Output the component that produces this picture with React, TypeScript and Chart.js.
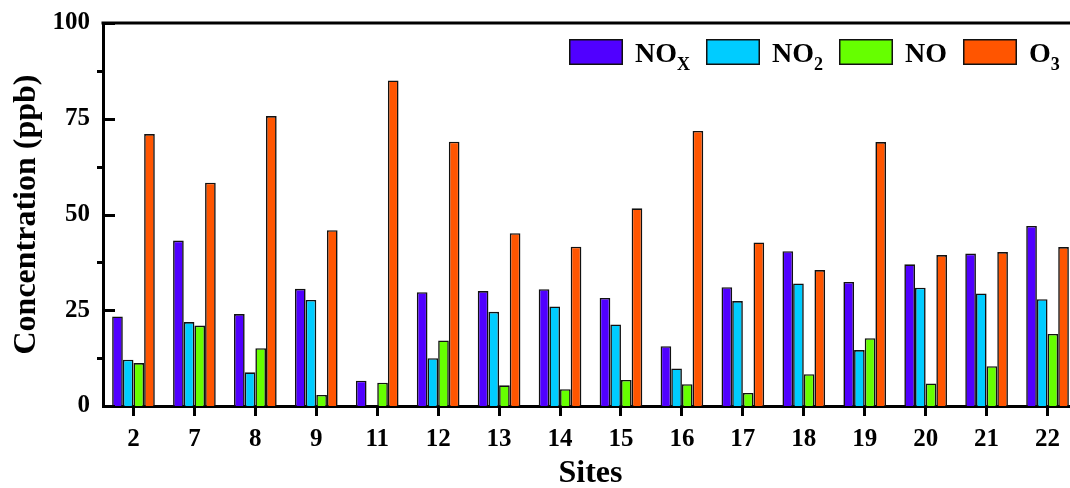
import React, { useEffect, useRef } from 'react';
import { Chart, registerables } from 'chart.js';

Chart.register(...registerables);

// ---- Data ----
const sites = ['2', '7', '8', '9', '11', '12', '13', '14', '15', '16', '17', '18', '19', '20', '21', '22'];
const noxValues = [23.4, 43.2, 24.0, 30.6, 6.6, 29.7, 30.0, 30.5, 28.2, 15.6, 31.0, 40.4, 32.4, 37.0, 39.8, 47.0];
const no2Values = [12.1, 21.9, 8.8, 27.7, null, 12.5, 24.6, 26.0, 21.3, 9.8, 27.4, 32.0, 14.6, 30.9, 29.4, 27.9];
const noValues = [11.2, 21.0, 15.1, 2.9, 6.1, 17.1, 5.4, 4.4, 6.8, 5.7, 3.4, 8.3, 17.7, 5.9, 10.4, 18.8];
const o3Values = [71.0, 58.3, 75.7, 45.9, 85.0, 69.0, 45.1, 41.6, 51.6, 71.8, 42.7, 35.5, 68.9, 39.4, 40.2, 41.5];

const seriesMain = ['NO', 'NO', 'NO', 'O'];
const seriesSub = ['X', '2', '', '3'];
const seriesColors = ['#5000FF', '#00CCFF', '#66FF00', '#FF5500'];

const yMin = 0;
const yMax = 100;
const yStep = 25;
const xTitle = 'Sites';
const yTitle = 'Concentration (ppb)';

const FONT = '"Liberation Serif", "Times New Roman", serif';

const framePlugin = {
  id: 'frame',
  afterDraw(chart: any) {
    const { ctx, chartArea, scales } = chart;
    const y = scales.y;
    ctx.save();
    ctx.strokeStyle = '#000';
    ctx.lineWidth = 3;
    // top border
    ctx.beginPath();
    ctx.moveTo(chartArea.left - 1.5, chartArea.top);
    ctx.lineTo(chartArea.right + 2, chartArea.top);
    ctx.stroke();
    // y ticks: major inward, minor outward
    const ticks = y.ticks;
    ticks.forEach((t: any, i: number) => {
      const py = Math.round(y.getPixelForValue(t.value)) + 0.5;
      ctx.beginPath();
      ctx.moveTo(chartArea.left, py);
      ctx.lineTo(chartArea.left + 12, py);
      ctx.stroke();
      if (i < ticks.length - 1) {
        const mv = (t.value + ticks[i + 1].value) / 2;
        const my = Math.round(y.getPixelForValue(mv)) + 0.5;
        ctx.beginPath();
        ctx.moveTo(chartArea.left - 6, my);
        ctx.lineTo(chartArea.left, my);
        ctx.stroke();
      }
    });

    // legend
    const boxW = 54;
    const boxH = 26;
    const boxTop = 39;
    const baseline = 62;
    let x = 569;
    chart.data.datasets.forEach((ds: any, i: number) => {
      ctx.fillStyle = ds.backgroundColor;
      ctx.fillRect(x, boxTop, boxW, boxH);
      ctx.lineWidth = 1.5;
      ctx.strokeStyle = '#111';
      ctx.strokeRect(x + 0.75, boxTop + 0.75, boxW - 1.5, boxH - 1.5);
      x += boxW + 12;
      ctx.fillStyle = '#000';
      ctx.textBaseline = 'alphabetic';
      ctx.textAlign = 'left';
      ctx.font = `bold 28px ${FONT}`;
      ctx.fillText(seriesMain[i], x, baseline);
      x += ctx.measureText(seriesMain[i]).width;
      if (seriesSub[i]) {
        ctx.font = `bold 18px ${FONT}`;
        ctx.fillText(seriesSub[i], x, baseline + 8);
        x += ctx.measureText(seriesSub[i]).width;
      }
      x += 16;
    });
    ctx.restore();
  },
};

export default function App() {
  const canvasRef = useRef<HTMLCanvasElement | null>(null);

  useEffect(() => {
    const canvas = canvasRef.current;
    if (!canvas) return;
    const datasets = [noxValues, no2Values, noValues, o3Values].map((vals, i) => ({
      label: seriesMain[i] + seriesSub[i],
      data: vals,
      backgroundColor: seriesColors[i],
      borderColor: '#111',
      borderWidth: 1.6,
      categoryPercentage: 0.7,
      barPercentage: 1.0,
    }));
    const chart = new Chart(canvas, {
      type: 'bar',
      data: { labels: sites, datasets },
      options: {
        responsive: false,
        animation: false,
        devicePixelRatio: 1,
        layout: { padding: { left: 0, right: 7, top: 23, bottom: 0 } },
        plugins: {
          legend: { display: false },
          tooltip: { enabled: false },
        },
        scales: {
          x: {
            afterFit: (scale: any) => {
              scale.height = 82;
            },
            grid: {
              display: true,
              drawOnChartArea: false,
              offset: false,
              tickLength: 10,
              lineWidth: 3,
              color: '#000',
            },
            border: { display: true, width: 3, color: '#000' },
            ticks: {
              color: '#000',
              font: { family: FONT, size: 25, weight: 'bold' },
              padding: 9,
              autoSkip: false,
              maxRotation: 0,
            },
            title: {
              display: true,
              text: xTitle,
              color: '#000',
              font: { family: FONT, size: 32, weight: 'bold', lineHeight: 0.9 },
              padding: { top: 0, bottom: 0 },
            },
          },
          y: {
            min: yMin,
            max: yMax,
            afterFit: (scale: any) => {
              scale.width = 103;
              scale.paddingTop = 0;
              scale.paddingBottom = 0;
            },
            grid: { display: false, drawTicks: false },
            border: { display: true, width: 3, color: '#000' },
            ticks: {
              stepSize: yStep,
              color: '#000',
              font: { family: FONT, size: 25, weight: 'bold', lineHeight: 0.6 },
              padding: 13,
            },
            title: {
              display: true,
              text: yTitle,
              color: '#000',
              font: { family: FONT, size: 32, weight: 'bold' },
              padding: { top: 8, bottom: 0 },
            },
          },
        },
      },
      plugins: [framePlugin],
    });
    return () => chart.destroy();
  }, []);

  return (
    <div
      style={{
        position: 'fixed',
        left: 0,
        top: 0,
        width: 1070,
        height: 488,
        overflow: 'hidden',
        background: '#fff',
      }}
    >
      <canvas ref={canvasRef} width={1085} height={488} style={{ width: 1085, height: 488, display: 'block' }} />
    </div>
  );
}
